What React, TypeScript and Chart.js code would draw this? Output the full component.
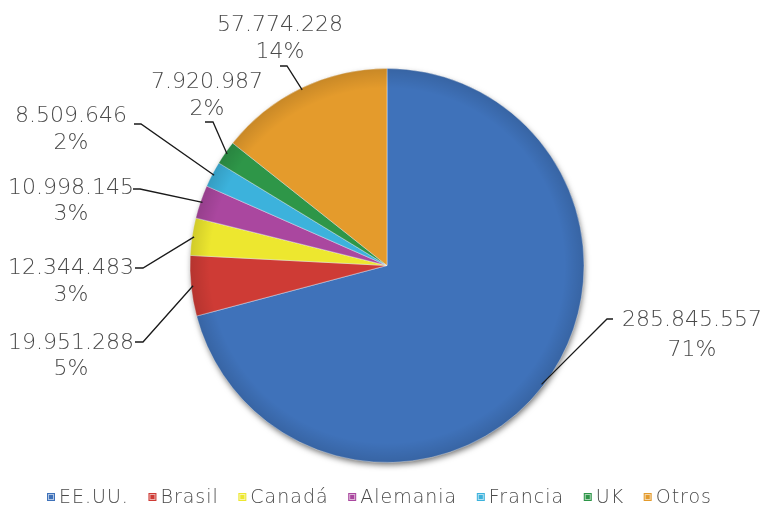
import React, { useEffect, useRef } from "react";
import { Chart, registerables } from "chart.js";

Chart.register(...registerables);

const categories = ["EE.UU.", "Brasil", "Canadá", "Alemania", "Francia", "UK", "Otros"];
const values = [285845557, 19951288, 12344483, 10998145, 8509646, 7920987, 57774228];
const colors = ["#3F72BA", "#CE3B35", "#EDE72F", "#AA479F", "#3CB2DC", "#2E9648", "#E49B2C"];

// label layout: text centre x, first line y, second line y, elbow x, end x, leader y
const labelLayout = [
  { cx: 692, y1: 320, y2: 350, ex: 607, tx: 613, ly: 319 },
  { cx: 71, y1: 343, y2: 369, ex: 143, tx: 135, ly: 342 },
  { cx: 71, y1: 268, y2: 295, ex: 143, tx: 135, ly: 268 },
  { cx: 71, y1: 188, y2: 214, ex: 140, tx: 133, ly: 189 },
  { cx: 71, y1: 116, y2: 143, ex: 141, tx: 134, ly: 124 },
  { cx: 207, y1: 82, y2: 109, ex: 213, tx: 205, ly: 122 },
  { cx: 280, y1: 25, y2: 52, ex: 287, tx: 280, ly: 66 },
];

const FONT = "'DejaVu Sans', sans-serif";
const TEXT = "#4A4A4A";

function fmt(n: number): string {
  return String(n).replace(/\B(?=(\d{3})+(?!\d))/g, ".");
}

const shadowPlugin = {
  id: "pieShadow",
  beforeDatasetsDraw(chart: any) {
    const arc = chart.getDatasetMeta(0).data[0];
    if (!arc) return;
    const { x, y, outerRadius } = arc.getProps(["x", "y", "outerRadius"], true);
    const ctx = chart.ctx;
    ctx.save();
    ctx.shadowColor = "rgba(0,0,0,0.6)";
    ctx.shadowBlur = 6;
    ctx.shadowOffsetY = 3;
    ctx.shadowOffsetX = 1;
    ctx.beginPath();
    ctx.arc(x, y, outerRadius - 1, 0, Math.PI * 2);
    ctx.fillStyle = "#2F5A98";
    ctx.fill();
    ctx.restore();
  },
};

const labelPlugin = {
  id: "outLabels",
  afterDatasetsDraw(chart: any) {
    const ctx = chart.ctx;
    const meta = chart.getDatasetMeta(0);
    const data = chart.data.datasets[0].data as number[];
    const total = data.reduce((a, b) => a + b, 0);
    ctx.save();
    // subtle rim shading for a bevelled look
    const a0 = meta.data[0];
    if (a0) {
      const { x, y, outerRadius } = a0.getProps(["x", "y", "outerRadius"], true);
      const g = ctx.createRadialGradient(x, y, outerRadius * 0.9, x, y, outerRadius);
      g.addColorStop(0, "rgba(0,0,0,0)");
      g.addColorStop(1, "rgba(0,0,0,0.12)");
      ctx.beginPath();
      ctx.arc(x, y, outerRadius, 0, Math.PI * 2);
      ctx.fillStyle = g;
      ctx.fill();
    }
    meta.data.forEach((arc: any, i: number) => {
      const { x, y, startAngle, endAngle, outerRadius } = arc.getProps(
        ["x", "y", "startAngle", "endAngle", "outerRadius"],
        true
      );
      const mid = (startAngle + endAngle) / 2;
      const px = x + Math.cos(mid) * (outerRadius - 2);
      const py = y + Math.sin(mid) * (outerRadius - 2);
      const L = labelLayout[i];
      ctx.strokeStyle = "#1a1a1a";
      ctx.lineWidth = 1.3;
      ctx.beginPath();
      ctx.moveTo(px, py);
      ctx.lineTo(L.ex, L.ly);
      ctx.lineTo(L.tx, L.ly);
      ctx.stroke();
      ctx.fillStyle = TEXT;
      ctx.font = `300 22px ${FONT}`;
      ctx.textAlign = "center";
      ctx.textBaseline = "middle";
      ctx.fillText(fmt(data[i]), L.cx, L.y1);
      ctx.fillText(Math.round((data[i] / total) * 100) + "%", L.cx, L.y2);
    });
    ctx.restore();
  },
};

const legendPlugin = {
  id: "bottomLegend",
  afterDraw(chart: any) {
    const ctx = chart.ctx;
    const labels = chart.data.labels as string[];
    const bg = chart.data.datasets[0].backgroundColor as string[];
    ctx.save();
    ctx.font = `300 19px ${FONT}`;
    (ctx as any).letterSpacing = "1px";
    const box = 8;
    const gapIn = 4;
    const widths = labels.map((l) => ctx.measureText(l).width);
    const itemsW = widths.reduce((a, w) => a + box + gapIn + w, 0);
    const left = 47;
    const right = 712;
    const gap = (right - left - itemsW) / (labels.length - 1);
    let xx = left;
    const yc = 497;
    labels.forEach((l, i) => {
      ctx.fillStyle = bg[i];
      ctx.fillRect(xx, yc - box / 2, box, box);
      ctx.strokeStyle = "rgba(255,255,255,0.6)";
      ctx.lineWidth = 1;
      ctx.strokeRect(xx + 1.5, yc - box / 2 + 1.5, box - 3, box - 3);
      ctx.fillStyle = TEXT;
      ctx.textAlign = "left";
      ctx.textBaseline = "middle";
      ctx.fillText(l, xx + box + gapIn, yc + 1);
      xx += box + gapIn + widths[i] + gap;
    });
    ctx.restore();
  },
};

export default function App() {
  const ref = useRef<HTMLCanvasElement>(null);
  useEffect(() => {
    if (!ref.current) return;
    const chart = new Chart(ref.current, {
      type: "pie",
      data: {
        labels: categories,
        datasets: [
          {
            data: values,
            backgroundColor: colors,
            borderColor: "rgba(255,255,255,0.4)",
            borderWidth: 1,
            radius: 197,
          } as any,
        ],
      },
      options: {
        responsive: false,
        animation: false,
        layout: { padding: { top: 68, bottom: 42, left: 4, right: 0 } },
        plugins: {
          legend: { display: false },
          tooltip: { enabled: false },
        },
      },
      plugins: [shadowPlugin, labelPlugin, legendPlugin],
    });
    return () => chart.destroy();
  }, []);
  return (
    <div style={{ position: "fixed", left: 0, top: 0, width: 770, height: 505, background: "#fff" }}>
      <canvas ref={ref} width={770} height={505} style={{ width: 770, height: 505 }} />
    </div>
  );
}
